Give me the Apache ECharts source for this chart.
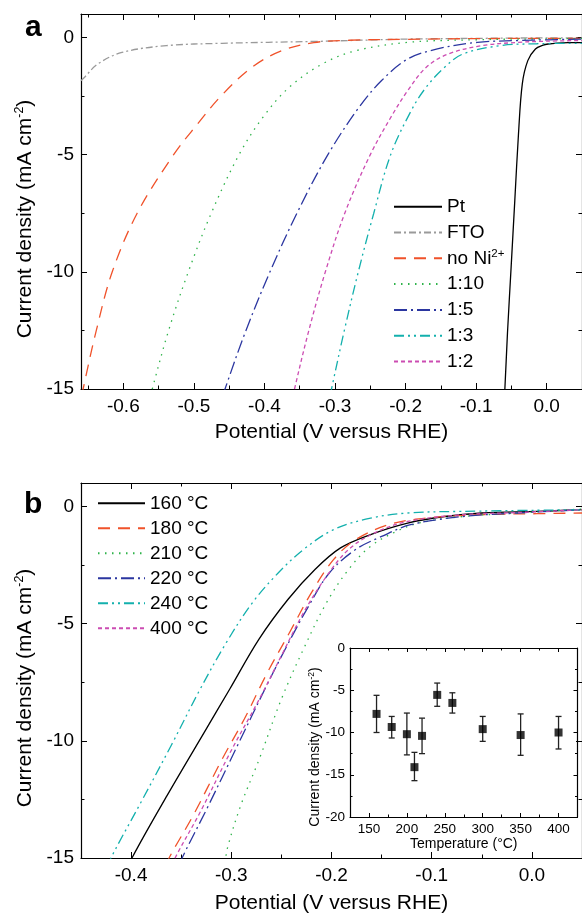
<!DOCTYPE html>
<html><head><meta charset="utf-8">
<script src="https://cdn.jsdelivr.net/npm/echarts@6/dist/echarts.min.js"></script>
<style>html,body{margin:0;padding:0;background:#fff}#c{width:582px;height:915px}</style>
</head><body><div id="c"></div>
<script>
// ---------- Panel a data (Potential V vs RHE, current density mA cm-2) ----------
const potPt  = [-0.0605, -0.0593, -0.0556, -0.0504, -0.0452, -0.040, -0.0346, -0.0268, -0.016, -0.005, 0.002, 0.015, 0.03, 0.05];
const curPt  = [-15.5, -15, -12.6, -9.78, -6.94, -4.11, -1.98, -0.99, -0.49, -0.33, -0.28, -0.24, -0.22, -0.22];
const potFTO = [-0.66, -0.656, -0.636, -0.602, -0.539, -0.46, -0.329, -0.197, -0.1, 0.0, 0.05];
const curFTO = [-1.85, -1.73, -1.13, -0.64, -0.35, -0.25, -0.17, -0.07, -0.04, -0.02, -0.02];
const potNoNi = [-0.6585, -0.657, -0.6383, -0.6157, -0.5804, -0.5287, -0.495, -0.4616, -0.418, -0.376, -0.33, -0.28, -0.2, -0.1, 0.0, 0.05];
const curNoNi = [-15.3, -15, -12.5, -10, -7.5, -5, -3.7, -2.5, -1.28, -0.57, -0.22, -0.12, -0.08, -0.05, -0.04, -0.04];
const pot110 = [-0.561, -0.559, -0.5358, -0.5079, -0.4754, -0.436, -0.402, -0.365, -0.318, -0.271, -0.197, -0.1, 0.0, 0.05];
const cur110 = [-15.3, -15, -12.5, -10, -7.5, -5, -3.4, -2.13, -1.13, -0.57, -0.21, -0.1, -0.06, -0.05];
const pot15  = [-0.4585, -0.4559, -0.4262, -0.3922, -0.354, -0.3101, -0.266, -0.234, -0.197, -0.155, -0.098, -0.04, 0.0, 0.05];
const cur15  = [-15.3, -15, -12.5, -10, -7.5, -5, -2.98, -1.84, -0.92, -0.49, -0.21, -0.13, -0.1, -0.07];
const pot13  = [-0.307, -0.305, -0.2868, -0.267, -0.2451, -0.2211, -0.192, -0.171, -0.145, -0.119, -0.066, -0.014, 0.05];
const cur13  = [-15.3, -15, -12.5, -10, -7.5, -5, -3.12, -2.13, -1.28, -0.71, -0.35, -0.27, -0.25];
const pot12  = [-0.359, -0.3574, -0.3371, -0.3137, -0.2862, -0.25, -0.218, -0.197, -0.171, -0.14, -0.092, -0.04, 0.0, 0.05];
const cur12  = [-15.3, -15, -12.5, -10, -7.5, -5, -3.26, -2.27, -1.28, -0.71, -0.35, -0.21, -0.16, -0.13];

// ---------- Panel b data ----------
const pot160 = [-0.402, -0.399, -0.364, -0.327, -0.3015, -0.2725, -0.2435, -0.2165, -0.191, -0.161, -0.124, -0.087, -0.05, 0.005, 0.05];
const cur160 = [-15.4, -14.99, -12.33, -9.64, -7.79, -5.67, -3.97, -2.69, -1.77, -1.2, -0.71, -0.43, -0.28, -0.21, -0.14];
const pot180 = [-0.364, -0.362, -0.338, -0.309, -0.287, -0.264, -0.242, -0.22, -0.198, -0.176, -0.143, -0.106, -0.05, 0.005, 0.05];
const cur180 = [-15.3, -14.99, -13.18, -10.77, -9.07, -7.09, -5.39, -3.68, -2.27, -1.42, -0.78, -0.5, -0.35, -0.31, -0.28];
const pot210 = [-0.306, -0.304, -0.2905, -0.272, -0.25, -0.228, -0.205, -0.183, -0.161, -0.135, -0.113, -0.069, -0.014, 0.05];
const cur210 = [-15.2, -14.6, -12.75, -10.77, -8.22, -6.09, -4.11, -2.69, -1.7, -1.06, -0.71, -0.43, -0.28, -0.11];
const pot220 = [-0.351, -0.349, -0.3244, -0.2938, -0.2648, -0.2445, -0.2228, -0.202, -0.176, -0.15, -0.121, -0.069, -0.014, 0.05];
const cur220 = [-15.3, -14.99, -12.9, -10.2, -7.65, -5.95, -4.25, -2.83, -1.84, -1.28, -0.78, -0.43, -0.28, -0.14];
const pot240 = [-0.423, -0.42, -0.39, -0.36, -0.331, -0.305, -0.279, -0.253, -0.228, -0.198, -0.161, -0.124, -0.069, 0.05];
const cur240 = [-15.4, -14.99, -12.61, -10.2, -7.79, -5.81, -4.11, -2.83, -1.84, -0.99, -0.5, -0.28, -0.21, -0.14];
const pot400 = [-0.358, -0.356, -0.331, -0.301, -0.272, -0.2485, -0.228, -0.205, -0.183, -0.157, -0.124, -0.069, -0.014, 0.05];
const cur400 = [-15.3, -14.99, -13.04, -10.49, -8.22, -6.24, -4.54, -2.98, -1.84, -1.13, -0.64, -0.35, -0.26, -0.14];

// ---------- Inset data ----------
const temps   = [160, 180, 200, 210, 220, 240, 260, 300, 350, 400];
const jMean   = [-7.8, -9.35, -10.2, -14.1, -10.4, -5.55, -6.5, -9.6, -10.3, -10.0];
const jHigh   = [-5.6, -8.1, -7.7, -12.35, -8.3, -4.15, -5.3, -8.1, -7.8, -8.1];
const jLow    = [-10.0, -10.65, -12.65, -15.7, -12.5, -6.9, -7.7, -11.05, -12.7, -11.95];

const namesA = ['Pt', 'FTO', 'no Ni2+', '1:10', '1:5', '1:3', '1:2'];
const namesB = ['160 °C', '180 °C', '210 °C', '220 °C', '240 °C', '400 °C'];

const F = 'Liberation Sans, Arial, Helvetica, sans-serif';
const C = {black:'#000000', gray:'#9a9a9a', red:'#F0522A', green:'#2FB34A', blue:'#2B36A0', cyan:'#13B0AD', mag:'#CC4CB2'};
const DASH = {solid:'solid', dashdot:[7,3,2,3], dash:[12,8], dot:[1.5,5.5], dashdot2:[13,4,2,4], dashdotdot:[10,4,2,4,2,4], short:[4,3]};

function line(name, xs, ys, color, type, gi) {
  return {type:'line', name, xAxisIndex:gi*2, yAxisIndex:gi*2,
    data: xs.map((x,i)=>[x, ys[i]]), symbol:'none', showSymbol:false,
    smooth:0.35, clip:true,
    lineStyle:{color, width:1.3, type}, itemStyle:{color}, emphasis:{disabled:true}};
}

const grids = [
  {left:81, top:14, right:-2, height:375},
  {left:81, top:483, right:-2, height:376},
  {left:350, top:648, width:227.5, height:169, show:true, backgroundColor:'#fff', borderWidth:0}
];

const tickStyle = {color:'#000', width:1};
function xAx(gi, pos, min, max, opt) {
  const inset = gi === 2;
  return Object.assign({type:'value', gridIndex:gi, position:pos, min, max,
    axisLine:{show:true, onZero:false, lineStyle:{color:'#000', width:1.2}},
    axisTick:{show:true, inside:true, length: inset?4:6, lineStyle:tickStyle},
    minorTick:{show:true, splitNumber:2, length: inset?2.5:3.5, lineStyle:tickStyle},
    splitLine:{show:false}, minorSplitLine:{show:false},
    axisLabel:{show: pos==='bottom', fontSize: inset?13.5:19, fontFamily:F, color:'#000', margin: inset?5:8,
      showMinLabel:false, showMaxLabel:false,
      formatter: inset ? (v=>String(v)) : (v=>v.toFixed(1))}
  }, opt||{});
}
function yAx(gi, pos, min, max, opt) {
  const inset = gi === 2;
  return Object.assign({type:'value', gridIndex:gi, position:pos, min, max,
    axisLine:{show:true, onZero:false, lineStyle:{color:'#000', width:1.2}},
    axisTick:{show:true, inside:true, length: inset?4:6, lineStyle:tickStyle},
    minorTick:{show:true, splitNumber:2, length: inset?2.5:3.5, lineStyle:tickStyle},
    splitLine:{show:false}, minorSplitLine:{show:false},
    axisLabel:{show: pos==='left', fontSize: inset?13.5:19, fontFamily:F, color:'#000', margin: inset?5:7,
      showMaxLabel: inset, showMinLabel:true}
  }, opt||{});
}

const xName = (txt, gap, fs) => ({name:txt, nameLocation:'middle', nameGap:gap,
  nameTextStyle:{fontSize:fs, fontFamily:F, color:'#000'}});

const xAxis = [
  xAx(0,'bottom',-0.66,0.05, xName('Potential (V versus RHE)', 33, 21)),
  xAx(0,'top',-0.66,0.05),
  xAx(1,'bottom',-0.45,0.05, xName('Potential (V versus RHE)', 35, 21)),
  xAx(1,'top',-0.45,0.05),
  xAx(2,'bottom',125,425, Object.assign({splitNumber:5}, xName('Temperature (°C)', 18, 14))),
  xAx(2,'top',125,425, {splitNumber:5})
];
const yAxis = [
  yAx(0,'left',-15,1,{splitNumber:3}),
  yAx(0,'right',-15,1,{splitNumber:3}),
  yAx(1,'left',-15,1,{splitNumber:3}),
  yAx(1,'right',-15,1,{splitNumber:3}),
  yAx(2,'left',-20,0,{interval:5}),
  yAx(2,'right',-20,0,{interval:5})
];

const series = [
  line('Pt', potPt, curPt, C.black, DASH.solid, 0),
  line('FTO', potFTO, curFTO, C.gray, DASH.dashdot, 0),
  line('no Ni2+', potNoNi, curNoNi, C.red, DASH.dash, 0),
  line('1:10', pot110, cur110, C.green, DASH.dot, 0),
  line('1:5', pot15, cur15, C.blue, DASH.dashdot2, 0),
  line('1:3', pot13, cur13, C.cyan, DASH.dashdotdot, 0),
  line('1:2', pot12, cur12, C.mag, DASH.short, 0),
  line('160 °C', pot160, cur160, C.black, DASH.solid, 1),
  line('180 °C', pot180, cur180, C.red, DASH.dash, 1),
  line('210 °C', pot210, cur210, C.green, DASH.dot, 1),
  line('220 °C', pot220, cur220, C.blue, DASH.dashdot2, 1),
  line('240 °C', pot240, cur240, C.cyan, DASH.dashdotdot, 1),
  line('400 °C', pot400, cur400, C.mag, DASH.short, 1),
  {type:'custom', name:'err', xAxisIndex:4, yAxisIndex:4, z:3,
    data: temps.map((t,i)=>[t, jLow[i], jHigh[i]]), encode:{x:0, y:[1,2]},
    renderItem:(params, api)=>{
      const x = api.value(0);
      const a = api.coord([x, api.value(1)]), b = api.coord([x, api.value(2)]);
      const w = 3, st = {stroke:'#222', lineWidth:1.3, fill:null};
      return {type:'group', children:[
        {type:'line', shape:{x1:a[0], y1:a[1], x2:b[0], y2:b[1]}, style:st},
        {type:'line', shape:{x1:a[0]-w, y1:a[1], x2:a[0]+w, y2:a[1]}, style:st},
        {type:'line', shape:{x1:b[0]-w, y1:b[1], x2:b[0]+w, y2:b[1]}, style:st}
      ]};
    }},
  {type:'scatter', name:'mean', xAxisIndex:4, yAxisIndex:4, z:4,
    data: temps.map((t,i)=>[t, jMean[i]]), symbol:'rect', symbolSize:8,
    itemStyle:{color:'#000'}, emphasis:{disabled:true}}
];

const legRich = {a:{fontSize:19, fontFamily:F, color:'#000', lineHeight:20},
                 s:{fontSize:11.5, fontFamily:F, color:'#000', lineHeight:12, verticalAlign:'top'}};
const legFmt = n => n === 'no Ni2+' ? '{a|no Ni}{s|2+}' : '{a|' + n + '}';
const legCommon = {orient:'vertical', itemHeight:14, padding:0, selectedMode:false, formatter:legFmt,
  itemStyle:{opacity:0, borderWidth:0}, textStyle:{fontSize:19, fontFamily:F, color:'#000', lineHeight:20, rich:legRich}};
const legend = [
  Object.assign({data:namesA, left:393, top:196.7, itemWidth:48, itemGap:5.8}, legCommon),
  Object.assign({data:namesB, left:97, top:493.3, itemWidth:47, itemGap:5}, legCommon)
];

function yTitle(x, y, fs, ss, lh) {
  return {type:'text', x, y, rotation:Math.PI/2, z:10,
    style:{text:'{a|Current density (mA cm}{s|-2}{a|)}', align:'center', verticalAlign:'middle',
      textAlign:'center', textVerticalAlign:'middle',
      rich:{a:{fontSize:fs, fontFamily:F, fill:'#000', color:'#000', lineHeight:lh},
            s:{fontSize:ss, fontFamily:F, fill:'#000', color:'#000', lineHeight:ss+1, verticalAlign:'top'}}}};
}
const graphic = [
  {type:'text', x:25, y:27.5, z:10, style:{text:'a', fontSize:30, fontWeight:'bold', fontFamily:F, fill:'#000', align:'left', verticalAlign:'middle', textAlign:'left', textVerticalAlign:'middle'}},
  {type:'text', x:24, y:505, z:10, style:{text:'b', fontSize:30, fontWeight:'bold', fontFamily:F, fill:'#000', align:'left', verticalAlign:'middle', textAlign:'left', textVerticalAlign:'middle'}},
  yTitle(25, 219, 21, 12.5, 23),
  yTitle(25, 688, 21, 12.5, 23),
  yTitle(315.5, 747, 14, 8.5, 16)
];

const chart = echarts.init(document.getElementById('c'), null, {renderer:'canvas'});
chart.setOption({animation:false, backgroundColor:'#fff', grid:grids, xAxis, yAxis, series, legend, graphic, tooltip:{show:false}});
</script></body></html>
